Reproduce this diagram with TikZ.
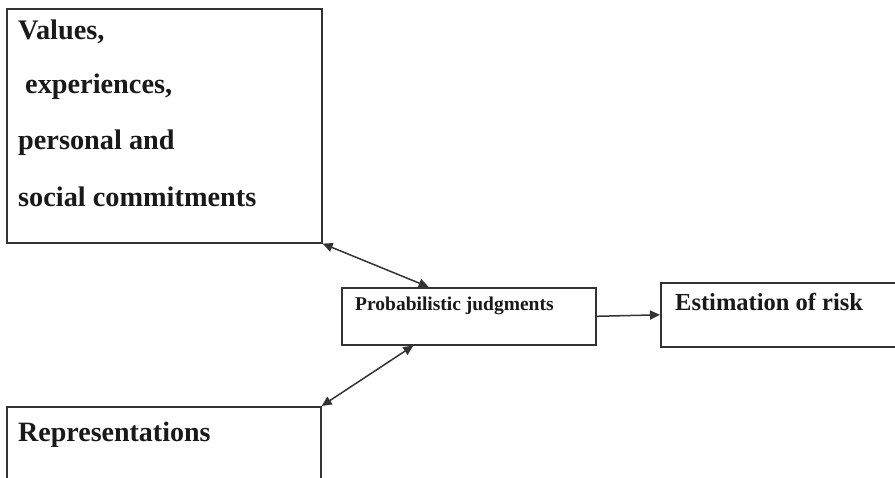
\documentclass[tikz,border=0pt]{standalone}
\usepackage{fontspec}
\setmainfont{Liberation Serif}
\usetikzlibrary{calc,arrows.meta}
\begin{document}
\begin{tikzpicture}[x=1pt,y=-1pt,
  box/.style={draw=black!80,line width=1.6pt,rectangle,inner sep=0pt,anchor=north west},
  txt/.style={inner sep=0pt,anchor=base west,font=\bfseries,text=black!90},
  big/.style={font=\bfseries\fontsize{28.3}{32}\selectfont},
  conn/.style={draw=black!80,line width=1.5pt,{Triangle[length=10pt,width=9pt]}-{Triangle[length=10pt,width=9pt]}},
  conn1/.style={draw=black!80,line width=1.5pt,-{Triangle[length=10pt,width=9pt]}}]
\useasboundingbox (0,0) rectangle (895,477);
\fill[white] (0,0) rectangle (895,477);
\node[box,minimum width=315pt,minimum height=234pt] (v) at (6,8) {};
\node[box,minimum width=254pt,minimum height=57pt] (pj) at (341,287) {};
\node[box,minimum width=250pt,minimum height=64pt] (er) at (660,282) {};
\node[box,minimum width=314pt,minimum height=90pt] (rep) at (6,406) {};
\node[txt,big] (t1) at (18,39) {Values,};
\node[txt,big] (t2) at (25,93) {experiences,};
\node[txt,big] (t3) at (18,149) {personal and};
\node[txt,big] (t4) at (18,206) {social commitments};
\node[txt,font=\bfseries\fontsize{19.5}{22}\selectfont] (t5) at (355,310) {Probabilistic judgments};
\node[txt,font=\bfseries\fontsize{24.5}{28}\selectfont] (t6) at (675,310) {Estimation of risk};
\node[txt,font=\bfseries\fontsize{28}{32}\selectfont] (t7) at (18,441) {Representations};
\coordinate (pjt) at ($(pj.north west)!0.343!(pj.north east)$);
\coordinate (pjb) at ($(pj.south west)!0.283!(pj.south east)$);
\draw[conn] (v.south east) -- (pjt);
\draw[conn] (rep.north east) -- (pjb);
\draw[conn1] (pj.east) -- (er.west);
\end{tikzpicture}
\end{document}
